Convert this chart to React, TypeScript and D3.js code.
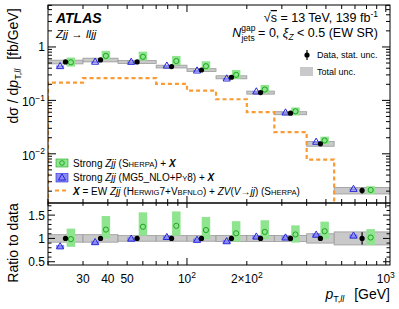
import { line, scaleLinear, scaleLog, symbol, symbolTriangle } from "d3";

// pT,ll bin edges [GeV]
const binEdges = [20, 30, 45, 70, 100, 140, 200, 275, 400, 550, 1050];
// measured cross-section [fb/GeV]
const dataVals = [0.524, 0.571, 0.524, 0.43, 0.37, 0.271, 0.14, 0.0576, 0.0154, 0.00206];
const dataStat = [0.02, 0.02, 0.02, 0.02, 0.02, 0.025, 0.025, 0.03, 0.05, 0.13];
const totalUnc = [0.08, 0.08, 0.06, 0.06, 0.06, 0.065, 0.065, 0.065, 0.1, 0.14];
// Strong Zjj (Sherpa) + X, ratio to data
const sherpaRatio = [0.985, 1.19, 1.25, 1.27, 1.18, 1.11, 1.14, 1.085, 1.155, 1.02];
const sherpaLo = [0.82, 1.0, 1.06, 1.06, 0.985, 0.93, 0.985, 0.91, 0.985, 0.86];
const sherpaHi = [1.21, 1.48, 1.56, 1.58, 1.46, 1.37, 1.39, 1.28, 1.36, 1.2];
// Strong Zjj (MG5_NLO+Py8) + X, ratio to data
const mg5Ratio = [0.82, 0.91, 0.985, 1.02, 0.96, 0.93, 1.03, 1.01, 1.07, 1.05];
const mg5Unc = [0.04, 0.04, 0.04, 0.04, 0.04, 0.04, 0.04, 0.04, 0.04, 0.04];
// X = EW Zjj + ZV [fb/GeV]
const ewVals = [0.215, 0.26, 0.26, 0.204, 0.152, 0.105, 0.0602, 0.0254, 0.0078, 0.0009];

const yMainMajor = [0.01, 0.1, 1];
const ratioMajor = [0.5, 1, 1.5];

const FONT = "'Liberation Sans', Arial, Helvetica, sans-serif";
const GREEN_FILL = "#8fe48f";
const GREEN_LINE = "#1fa51f";
const BLUE_FILL = "#8a8af2";
const BLUE_LINE = "#2424dd";
const ORANGE = "#f99a32";
const GREY_FILL = "#c9c9c9";
const GREY_LINE = "#999";

const L = 48, R = 390, T = 5, MID = 203, B = 265;

const x = scaleLog().domain([20, 1050]).range([L, R]);
const yMain = scaleLog().domain([1.2e-3, 6.1]).range([MID, T]);
const yRatio = scaleLinear().domain([0.43, 1.76]).range([B, MID]);

const bins = dataVals.map((d, i) => {
  const lo = binEdges[i];
  const hi = binEdges[i + 1];
  const lc = (Math.log10(lo) + Math.log10(hi)) / 2;
  const off = (Math.log10(hi) - Math.log10(lo)) / 6.5;
  return {
    i, lo, hi, d,
    xc: Math.pow(10, lc),
    xTri: Math.pow(10, lc - off),
    xCirc: Math.pow(10, lc + off),
  };
});

const xMinor: number[] = [];
[10, 100, 1000].forEach((dec) => {
  for (let k = 1; k <= 9; k++) {
    const v = k * dec;
    if (v >= 20 && v <= 1050) xMinor.push(v);
  }
});
const xMajor = [100, 1000];

const yMinor: number[] = [];
[0.001, 0.01, 0.1, 1].forEach((dec) => {
  for (let k = 1; k <= 9; k++) {
    const v = k * dec;
    if (v >= 1.2e-3 && v <= 6.1) yMinor.push(v);
  }
});
const ratioMinor: number[] = [];
for (let v = 0.5; v <= 1.75; v += 0.1) ratioMinor.push(+v.toFixed(2));

const triPath = symbol().type(symbolTriangle).size(22)();

const ewPath = (() => {
  const pts: [number, number][] = [[binEdges[0], 1e-4]];
  ewVals.forEach((v, i) => {
    pts.push([binEdges[i], v]);
    pts.push([binEdges[i + 1], v]);
  });
  return line<[number, number]>()
    .x((p) => x(p[0]))
    .y((p) => yMain(p[1]))(pts);
})();

const Sc = ({ children }: { children: string }) => (
  <tspan fontSize="0.76em">{children}</tspan>
);

const App = () => {
  const gW = 8.5;
  const bW = 8;
  return (
    <svg
      width={399}
      height={309}
      style={{ position: "absolute", left: 0, top: 0, background: "#fff" }}
      fontFamily={FONT}
    >
      <defs>
        <clipPath id="mainClip">
          <rect x={L} y={T} width={R - L} height={MID - T} />
        </clipPath>
        <clipPath id="ratioClip">
          <rect x={L} y={MID} width={R - L} height={B - MID} />
        </clipPath>
      </defs>

      {/* main panel */}
      <g clipPath="url(#mainClip)">
        {bins.map((b) => (
          <rect
            key={"g" + b.i}
            x={x(b.lo)}
            width={x(b.hi) - x(b.lo)}
            y={yMain(b.d * (1 + totalUnc[b.i]))}
            height={yMain(b.d * (1 - totalUnc[b.i])) - yMain(b.d * (1 + totalUnc[b.i]))}
            fill={GREY_FILL}
            stroke={GREY_LINE}
            strokeWidth={0.8}
          />
        ))}
        <path d={ewPath || ""} fill="none" stroke={ORANGE} strokeWidth={2.2} strokeDasharray="4 3" />
        {bins.map((b) => (
          <g key={"m" + b.i}>
            <rect
              x={x(b.xCirc) - gW / 2}
              width={gW}
              y={yMain(b.d * sherpaHi[b.i])}
              height={yMain(b.d * sherpaLo[b.i]) - yMain(b.d * sherpaHi[b.i])}
              fill={GREEN_FILL}
            />
            <rect
              x={x(b.xTri) - bW / 2}
              width={bW}
              y={yMain(b.d * (mg5Ratio[b.i] + mg5Unc[b.i]))}
              height={yMain(b.d * (mg5Ratio[b.i] - mg5Unc[b.i])) - yMain(b.d * (mg5Ratio[b.i] + mg5Unc[b.i]))}
              fill={BLUE_FILL}
            />
            <circle cx={x(b.xCirc)} cy={yMain(b.d * sherpaRatio[b.i])} r={2.6} fill="none" stroke={GREEN_LINE} strokeWidth={1} />
            <path
              d={triPath || ""}
              transform={`translate(${x(b.xTri)},${yMain(b.d * mg5Ratio[b.i])})`}
              fill="none"
              stroke={BLUE_LINE}
              strokeWidth={1}
            />
            <line
              x1={x(b.xc)}
              x2={x(b.xc)}
              y1={yMain(b.d * (1 + dataStat[b.i]))}
              y2={yMain(b.d * (1 - dataStat[b.i]))}
              stroke="#000"
              strokeWidth={1.2}
            />
            <circle cx={x(b.xc)} cy={yMain(b.d)} r={2.6} fill="#000" />
          </g>
        ))}
      </g>

      {/* ratio panel */}
      <g clipPath="url(#ratioClip)">
        {bins.map((b) => (
          <rect
            key={"rg" + b.i}
            x={x(b.lo)}
            width={x(b.hi) - x(b.lo)}
            y={yRatio(1 + totalUnc[b.i])}
            height={yRatio(1 - totalUnc[b.i]) - yRatio(1 + totalUnc[b.i])}
            fill={GREY_FILL}
            stroke={GREY_LINE}
            strokeWidth={0.8}
          />
        ))}
        {bins.map((b) => (
          <g key={"r" + b.i}>
            <rect
              x={x(b.xCirc) - gW / 2}
              width={gW}
              y={yRatio(sherpaHi[b.i])}
              height={yRatio(sherpaLo[b.i]) - yRatio(sherpaHi[b.i])}
              fill={GREEN_FILL}
            />
            <rect
              x={x(b.xTri) - bW / 2}
              width={bW}
              y={yRatio(mg5Ratio[b.i] + mg5Unc[b.i])}
              height={yRatio(mg5Ratio[b.i] - mg5Unc[b.i]) - yRatio(mg5Ratio[b.i] + mg5Unc[b.i])}
              fill={BLUE_FILL}
            />
            <circle cx={x(b.xCirc)} cy={yRatio(sherpaRatio[b.i])} r={2.6} fill="none" stroke={GREEN_LINE} strokeWidth={1} />
            <path
              d={triPath || ""}
              transform={`translate(${x(b.xTri)},${yRatio(mg5Ratio[b.i])})`}
              fill="none"
              stroke={BLUE_LINE}
              strokeWidth={1}
            />
            <line
              x1={x(b.xc)}
              x2={x(b.xc)}
              y1={yRatio(1 + dataStat[b.i])}
              y2={yRatio(1 - dataStat[b.i])}
              stroke="#000"
              strokeWidth={1.2}
            />
            <circle cx={x(b.xc)} cy={yRatio(1)} r={2.6} fill="#000" />
          </g>
        ))}
      </g>

      {/* ticks */}
      <g stroke="#000" strokeWidth={1}>
        {xMinor.map((v) => {
          const len = xMajor.includes(v) ? 7 : 4;
          const xx = x(v);
          return (
            <g key={"xt" + v}>
              <line x1={xx} x2={xx} y1={T} y2={T + len} />
              <line x1={xx} x2={xx} y1={MID} y2={MID - len} />
              <line x1={xx} x2={xx} y1={MID} y2={MID + len * 0.7} />
              <line x1={xx} x2={xx} y1={B} y2={B - len} />
            </g>
          );
        })}
        {yMinor.map((v) => {
          const len = yMainMajor.includes(v) ? 8 : 4;
          const yy = yMain(v);
          return (
            <g key={"yt" + v}>
              <line x1={L} x2={L + len} y1={yy} y2={yy} />
              <line x1={R} x2={R - len} y1={yy} y2={yy} />
            </g>
          );
        })}
        {ratioMinor.map((v) => {
          const len = ratioMajor.some((m) => Math.abs(m - v) < 1e-6) ? 7 : 3.5;
          const yy = yRatio(v);
          return (
            <g key={"rt" + v}>
              <line x1={L} x2={L + len} y1={yy} y2={yy} />
              <line x1={R} x2={R - len} y1={yy} y2={yy} />
            </g>
          );
        })}
      </g>

      {/* frames */}
      <rect x={L} y={T} width={R - L} height={MID - T} fill="none" stroke="#000" strokeWidth={1} />
      <rect x={L} y={MID} width={R - L} height={B - MID} fill="none" stroke="#000" strokeWidth={1} />

      {/* y tick labels main */}
      <g fontSize={12} textAnchor="end">
        <text x={45} y={yMain(1) + 4.5}>1</text>
        {[0.1, 0.01].map((v, k) => (
          <text key={v} x={45} y={yMain(v) + 6}>
            10
            <tspan fontSize={8.5} dy={-5.5}>{k === 0 ? "−1" : "−2"}</tspan>
          </text>
        ))}
      </g>
      {/* ratio y tick labels */}
      <g fontSize={12} textAnchor="end">
        {ratioMajor.map((v) => (
          <text key={v} x={45} y={yRatio(v) + 4.5}>
            {v === 1 ? "1" : String(v)}
          </text>
        ))}
      </g>

      {/* x tick labels */}
      <g fontSize={12} textAnchor="middle">
        {[30, 40, 50].map((v) => (
          <text key={v} x={x(v)} y={283}>
            {v}
          </text>
        ))}
        <text x={x(100)} y={283}>
          10<tspan fontSize={8.5} dy={-5}>2</tspan>
        </text>
        <text x={x(200)} y={283}>
          2×10<tspan fontSize={8.5} dy={-5}>2</tspan>
        </text>
        <text x={x(1000)} y={283}>
          10<tspan fontSize={8.5} dy={-5}>3</tspan>
        </text>
      </g>

      {/* axis titles */}
      <text x={R} y={299} fontSize={14} textAnchor="end">
        <tspan fontStyle="italic">p</tspan>
        <tspan fontSize={9} dy={3}>T,</tspan>
        <tspan fontSize={9} fontStyle="italic">ll</tspan>
        <tspan dy={-3} dx={10}>[GeV]</tspan>
      </text>
      <text transform="translate(18,66) rotate(-90)" fontSize={14} textAnchor="middle">
        dσ / d<tspan fontStyle="italic">p</tspan>
        <tspan fontSize={9} dy={3}>T,</tspan>
        <tspan fontSize={9} fontStyle="italic">ll</tspan>
        <tspan dy={-3} dx={9}>[fb/GeV]</tspan>
      </text>
      <text transform="translate(18,243) rotate(-90)" fontSize={14} textAnchor="middle">
        Ratio to data
      </text>

      {/* labels */}
      <text x={56} y={23} fontSize={14} fontWeight="bold" fontStyle="italic">
        ATLAS
      </text>
      <text x={56} y={38} fontSize={11.5}>
        <tspan fontStyle="italic">Zjj</tspan> → <tspan fontStyle="italic">lljj</tspan>
      </text>
      <text x={378} y={22} fontSize={12.5} textAnchor="end">
        √<tspan textDecoration="overline">s</tspan> = 13 TeV, 139 fb<tspan fontSize={8.5} dy={-5}>-1</tspan>
      </text>
      <text x={378} y={37} fontSize={12.5} textAnchor="end">
        <tspan fontStyle="italic">N</tspan>
        <tspan fontSize={8.5} dy={-6}>gap</tspan>
        <tspan fontSize={8.5} dx={-14} dy={10}>jets</tspan>
        <tspan dy={-4}> = 0, </tspan>
        <tspan fontStyle="italic">ξ</tspan>
        <tspan fontSize={8.5} fontStyle="italic" dy={3}>Z</tspan>
        <tspan dy={-3}> &lt; 0.5 (EW SR)</tspan>
      </text>

      {/* top-right legend */}
      <line x1={307} x2={307} y1={50} y2={60} stroke="#000" strokeWidth={1.2} />
      <circle cx={307} cy={55} r={2.6} fill="#000" />
      <text x={317} y={58} fontSize={9}>Data, stat. unc.</text>
      <rect x={300} y={67} width={13} height={9} fill={GREY_FILL} />
      <text x={317} y={75} fontSize={9}>Total unc.</text>

      {/* bottom legend */}
      <rect x={56} y={159} width={12} height={8} fill={GREEN_FILL} stroke={GREEN_LINE} strokeWidth={0.6} />
      <circle cx={62} cy={163} r={2.3} fill="none" stroke={GREEN_LINE} strokeWidth={1} />
      <text x={73} y={166.5} fontSize={10}>
        Strong <tspan fontStyle="italic">Zjj</tspan> (S<Sc>HERPA</Sc>) + <tspan fontStyle="italic" fontWeight="bold">X</tspan>
      </text>
      <rect x={56} y={173.5} width={12} height={8.5} fill={BLUE_FILL} stroke={BLUE_LINE} strokeWidth={0.6} />
      <path d={triPath || ""} transform="translate(62,178)" fill="none" stroke={BLUE_LINE} strokeWidth={1} />
      <text x={73} y={181} fontSize={10}>
        Strong <tspan fontStyle="italic">Zjj</tspan> (MG5_NLO+P<Sc>Y</Sc>8) + <tspan fontStyle="italic" fontWeight="bold">X</tspan>
      </text>
      <line x1={55} x2={69} y1={190.5} y2={190.5} stroke={ORANGE} strokeWidth={2.2} strokeDasharray="4 3" />
      <text x={73} y={194.5} fontSize={10}>
        <tspan fontStyle="italic" fontWeight="bold">X</tspan> = EW <tspan fontStyle="italic">Zjj</tspan> (H<Sc>ERWIG</Sc>7+V<Sc>BFNLO</Sc>) + <tspan fontStyle="italic">ZV</tspan>(<tspan fontStyle="italic">V</tspan>→<tspan fontStyle="italic">jj</tspan>) (S<Sc>HERPA</Sc>)
      </text>
    </svg>
  );
};

export default App;
